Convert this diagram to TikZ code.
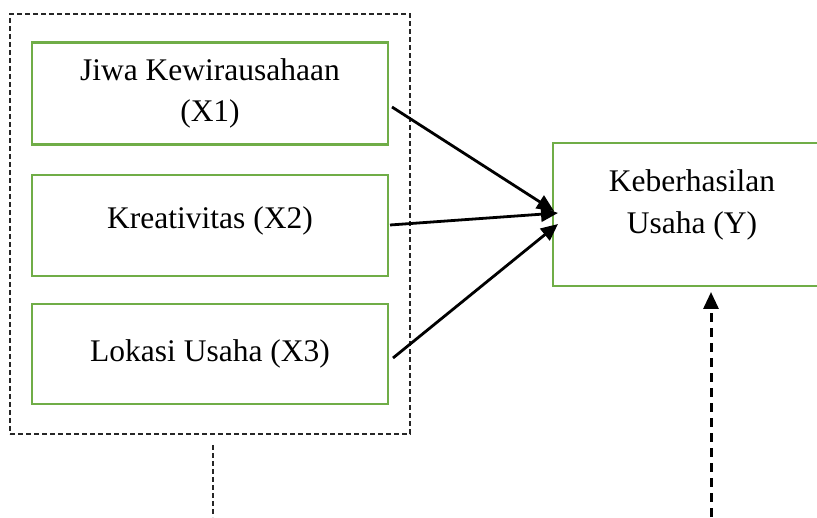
\documentclass[tikz,border=0pt]{standalone}
\usepackage{fontspec}
\setmainfont{Liberation Serif}
\usetikzlibrary{arrows.meta}
\definecolor{boxgreen}{RGB}{112,173,71}
\begin{document}
\begin{tikzpicture}[x=1pt,y=1pt,
  box/.style={draw=boxgreen,line width=2.6pt,align=center,inner sep=0pt,
    font=\fontsize{31.5}{41}\selectfont},
  txt/.style={align=center,inner sep=0pt,font=\fontsize{31.5}{42}\selectfont},
  grp/.style={draw=black!85,dash pattern=on 5pt off 3pt,line width=1.4pt,inner sep=0pt},
  arr/.style={line width=2.8pt,-{Triangle[length=17pt,width=15pt]}},
  darr/.style={line width=3pt,dash pattern=on 9pt off 6pt,-{Triangle[length=17pt,width=15pt]}},
  thin/.style={draw=black!85,dash pattern=on 5pt off 3pt,line width=1.4pt}]
\useasboundingbox (0,0) rectangle (817,517);
\clip (0,0) rectangle (817,517);
\node[grp,minimum width=400pt,minimum height=420pt] (g) at (210,293) {};
\node[box,minimum width=356pt,minimum height=102pt] (x1) at (210,423.5) {Jiwa Kewirausahaan\\(X1)};
\node[box,minimum width=356pt,minimum height=101pt] (x2) at (210,291.5) {};
\node[txt] (x2t) at (210,296) {Kreativitas (X2)};
\node[box,minimum width=356pt,minimum height=100pt] (x3) at (210,163) {Lokasi Usaha (X3)};
\node[box,minimum width=278pt,minimum height=143pt] (y) at (692,302.5) {};
\node[txt] (yt) at (692,312) {Keberhasilan\\Usaha (Y)};
\coordinate (s1) at (392,410);
\coordinate (s2) at (390,292);
\coordinate (s3) at (393,159);
\coordinate (e1) at (554,306);
\coordinate (e2) at (558,304);
\coordinate (e3) at (558,293);
\draw[arr] (s1) -- (e1);
\draw[arr] (s2) -- (e2);
\draw[arr] (s3) -- (e3);
\coordinate (gl) at (213,72);
\coordinate (gb) at (213,0);
\draw[thin] (gl) -- (gb);
\coordinate (db) at (711,0);
\coordinate (dt) at (711,225);
\draw[darr] (db) -- (dt);
\end{tikzpicture}
\end{document}
